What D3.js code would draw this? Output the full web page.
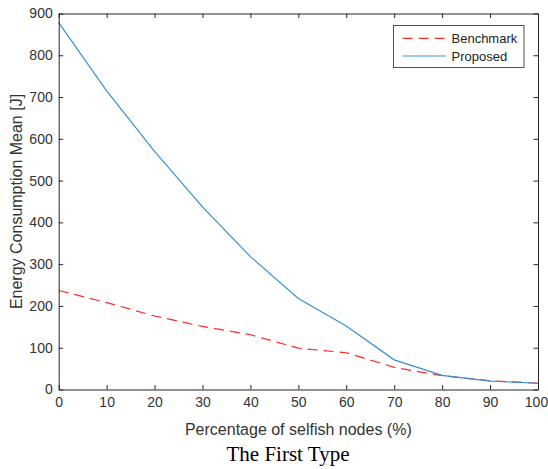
<!DOCTYPE html>
<html>
<head>
<meta charset="utf-8">
<script src="https://cdn.jsdelivr.net/npm/d3@7"></script>
<style>
  body { margin: 0; background: #fff; }
  svg { display: block; }
</style>
</head>
<body>
<div id="chart"></div>
<script>
const width = 548;
const height = 469;
const margin = { top: 13.5, right: 10, bottom: 79.5, left: 58.7 };

// selfish node percentage (x) and the two series
const percents = [0, 10, 20, 30, 40, 50, 60, 70, 80, 90, 100];
const benchmark = [237, 208, 176, 151, 131, 99, 88, 53, 33, 21, 15];
const proposed = [878, 715, 570, 437, 318, 218, 152, 71, 34, 20, 15];

const xTicks = [0, 10, 20, 30, 40, 50, 60, 70, 80, 90, 100];
const yTicks = [0, 100, 200, 300, 400, 500, 600, 700, 800, 900];

const series = [
    { name: "Benchmark", values: benchmark, color: "#ff2a2a", dash: "10,6" },
    { name: "Proposed", values: proposed, color: "#3a8fd2", dash: null }
];

const axisColor = "#262626";
const font = "'Liberation Sans', Arial, Helvetica, sans-serif";

const svg = d3.select("#chart")
    .append("svg")
    .attr("width", width)
    .attr("height", height);

const x = d3.scaleLinear()
    .domain([0, 100])
    .range([margin.left, width - margin.right]);

const y = d3.scaleLinear()
    .domain([0, 900])
    .range([height - margin.bottom, margin.top]);

// lines first, box on top like matlab
const line = d3.line()
    .x((d, i) => x(percents[i]))
    .y(d => y(d));

svg.append("g")
    .attr("class", "lines")
    .selectAll("path")
    .data(series)
    .join("path")
    .attr("fill", "none")
    .attr("stroke", d => d.color)
    .attr("stroke-width", 1.2)
    .attr("stroke-dasharray", d => d.dash)
    .attr("d", d => line(d.values));

// axes - ticks point inward, box on all four sides
const tickLen = 4.5;

const xAxis = svg.append("g")
    .attr("transform", `translate(0,${y(0)})`)
    .call(d3.axisBottom(x).tickValues(xTicks).tickSizeInner(-tickLen).tickSizeOuter(0).tickPadding(8));

const yAxis = svg.append("g")
    .attr("transform", `translate(${x(0)},0)`)
    .call(d3.axisLeft(y).tickValues(yTicks).tickSizeInner(-tickLen).tickSizeOuter(0).tickPadding(6));

const topAxis = svg.append("g")
    .attr("transform", `translate(0,${y(900)})`)
    .call(d3.axisTop(x).tickValues(xTicks).tickSizeInner(-tickLen).tickSizeOuter(0).tickFormat(""));

const rightAxis = svg.append("g")
    .attr("transform", `translate(${x(100)},0)`)
    .call(d3.axisRight(y).tickValues(yTicks).tickSizeInner(-tickLen).tickSizeOuter(0).tickFormat(""));

[xAxis, yAxis, topAxis, rightAxis].forEach(g => {
    g.select(".domain").attr("stroke", axisColor).attr("stroke-width", 1);
    g.selectAll(".tick line").attr("stroke", axisColor).attr("stroke-width", 1);
    g.selectAll(".tick text")
        .attr("fill", "#333")
        .style("font-family", font)
        .style("font-size", "14px");
});

// "100" sits right at the window edge, nudge it in a bit so it isn't clipped
xAxis.selectAll(".tick text")
    .filter(d => d === 100)
    .attr("dx", -2);

// axis labels
svg.append("text")
    .attr("x", (x(0) + x(100)) / 2)
    .attr("y", 435)
    .attr("text-anchor", "middle")
    .attr("fill", "#333")
    .style("font-family", font)
    .style("font-size", "16px")
    .text("Percentage of selfish nodes (%)");

svg.append("text")
    .attr("transform", `translate(22,${(y(0) + y(900)) / 2}) rotate(-90)`)
    .attr("text-anchor", "middle")
    .attr("fill", "#333")
    .style("font-family", font)
    .style("font-size", "16px")
    .text("Energy Consumption Mean [J]");

// caption under the figure
svg.append("text")
    .attr("x", 288)
    .attr("y", 461)
    .attr("text-anchor", "middle")
    .attr("fill", "#000")
    .style("font-family", "'Liberation Serif', 'Times New Roman', serif")
    .style("font-size", "21px")
    .text("The First Type");

// legend
const legend = svg.append("g").attr("class", "legend");

legend.append("rect")
    .attr("x", 393.5)
    .attr("y", 25.5)
    .attr("width", 130.5)
    .attr("height", 42)
    .attr("fill", "#fff")
    .attr("stroke", axisColor)
    .attr("stroke-width", 0.8);

const items = legend.selectAll("g.item")
    .data(series)
    .join("g")
    .attr("class", "item")
    .attr("transform", (d, i) => `translate(0,${38.3 + i * 17.7})`);

items.append("line")
    .attr("x1", 402.7)
    .attr("x2", 446)
    .attr("stroke", d => d.color)
    .attr("stroke-width", 1.2)
    .attr("stroke-dasharray", d => d.dash);

items.append("text")
    .attr("x", 451.5)
    .attr("dy", "0.35em")
    .attr("fill", "#222")
    .style("font-family", font)
    .style("font-size", "13px")
    .text(d => d.name);
</script>
</body>
</html>
